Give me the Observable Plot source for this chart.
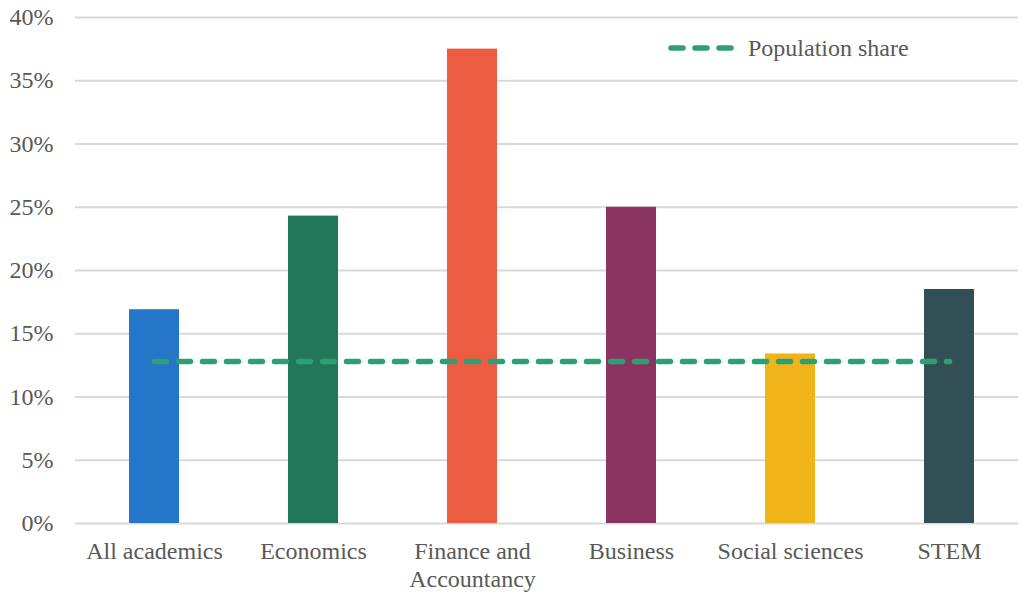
<!DOCTYPE html>
<html>
<head>
<meta charset="utf-8">
<script src="https://cdn.jsdelivr.net/npm/d3@7"></script>
<script src="https://cdn.jsdelivr.net/npm/@observablehq/plot@0.6"></script>
<style>
  html, body { margin: 0; padding: 0; background: #fff; }
  #wrap { position: relative; width: 1018px; height: 592px; overflow: hidden; }
  #legend { position: absolute; left: 668px; top: 33px; display: flex; align-items: center; line-height: 30px;
    font-family: "Liberation Serif", "DejaVu Serif", serif; font-size: 24px; color: #595959; }
  #legend svg { margin-right: 10px; }
</style>
</head>
<body>
<div id="wrap"><div id="legend"><svg width="70" height="10"><line x1="3" x2="67" y1="5" y2="5" stroke="#2E9F74" stroke-width="5.5" stroke-linecap="round" stroke-dasharray="12,12"></line></svg><span>Population share</span></div></div>
<script>
const categories = ["All academics", "Economics", "Finance and\nAccountancy", "Business", "Social sciences", "STEM"];
const shares = [16.9, 24.3, 37.5, 25.0, 13.4, 18.5];
const populationShare = [12.8, 12.8, 12.8, 12.8, 12.8, 12.8];
const colors = ["#2477C8", "#22775A", "#EC5C41", "#8C3461", "#F0B419", "#324F55"];
const yTicks = [0, 5, 10, 15, 20, 25, 30, 35, 40];

const bars = categories.map((c, i) => ({category: c, value: shares[i], color: colors[i]}));
const pop = categories.map((c, i) => ({category: c, value: populationShare[i]}));
const font = "'Liberation Serif', 'DejaVu Serif', serif";

const chart = Plot.plot({
  width: 1018,
  height: 592,
  marginTop: 17,
  marginBottom: 69,
  marginLeft: 75,
  marginRight: 0,
  style: {fontFamily: font, fontSize: "24px", color: "#595959", background: "#fff"},
  x: {domain: categories, range: [74.5, 1028.5], paddingInner: 0.686, paddingOuter: 0.343, align: 0.5},
  y: {domain: [0, 40], range: [523, 17]},
  marks: [
    Plot.gridY(yTicks, {stroke: "#d9d9d9", strokeOpacity: 1, strokeWidth: 2}),
    Plot.barY(bars, {x: "category", y: "value", fill: "color"}),
    Plot.lineY(pop, {x: "category", y: "value", stroke: "#2E9F74", strokeWidth: 5.5, strokeDasharray: "12,12", strokeLinecap: "round"}),
    Plot.axisY(yTicks, {tickSize: 0, tickPadding: 22, tickFormat: d => d + "%", fontSize: 24, fontFamily: font, fill: "#595959", label: null}),
    Plot.axisX({tickSize: 0, tickPadding: 16, fontSize: 24, fontFamily: font, fill: "#595959", lineHeight: 1.15, label: null})
  ]
});
document.getElementById("wrap").prepend(chart);
</script>
</body>
</html>
